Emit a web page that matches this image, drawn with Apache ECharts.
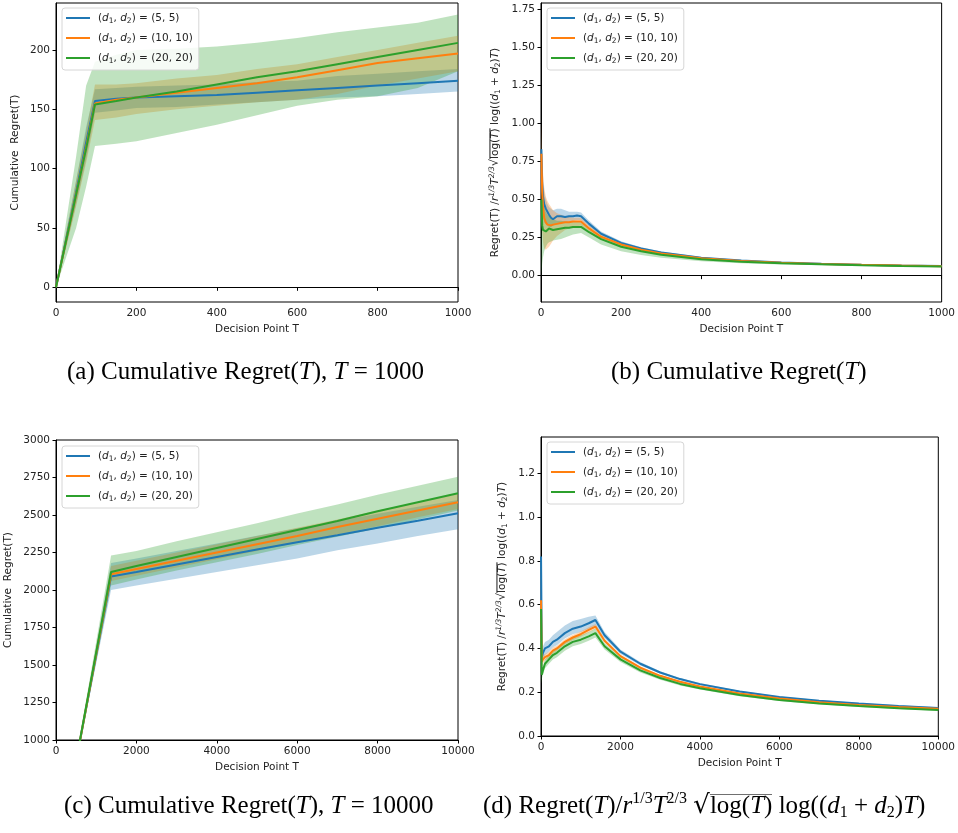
<!DOCTYPE html>
<html>
<head>
<meta charset="utf-8">
<script src="https://cdn.jsdelivr.net/npm/echarts@6/dist/echarts.min.js"></script>
<style>
  html, body { margin: 0; padding: 0; background: #fff; }
  #main { width: 958px; height: 833px; }
</style>
</head>
<body>
<div id="main"></div>
<script>
// (a) cumulative regret, T = 1000
var aT      = [0, 25, 50, 75, 97, 150, 200, 300, 400, 500, 600, 700, 800, 900, 1000];
var aBlue   = [0, 40, 80, 122, 157, 159, 160, 161, 162, 164, 166, 168, 170, 172, 174];
var aOrange = [0, 39, 78, 118, 155, 158, 160, 164, 168, 172, 177, 183, 189, 193, 197];
var aGreen  = [0, 39, 78, 117, 154, 157, 160, 165, 171, 177, 182, 188, 194, 200, 206];
var aBlueLo   = [0, 34, 70, 108, 147, 149, 151, 152, 154, 156, 158, 160, 161, 163, 165];
var aBlueHi   = [0, 46, 90, 135, 167, 168, 169, 170, 171, 173, 174, 178, 180, 182, 184];
var aOrangeLo = [0, 33, 68, 105, 141, 143, 146, 150, 153, 156, 158, 163, 170, 176, 182];
var aOrangeHi = [0, 46, 90, 132, 171, 171, 172, 176, 179, 184, 188, 194, 200, 206, 212];
var aGreenLo  = [0, 25, 50, 85, 119, 121, 123, 130, 137, 145, 153, 158, 161, 168, 182];
var aGreenHi  = [0, 55, 110, 170, 190, 196, 200, 201, 203, 206, 210, 215, 219, 223, 230];

// (b) normalised regret, T = 1000
var bT      = [1, 3, 5, 8, 12, 16, 20, 25, 30, 40, 50, 60, 70, 80, 90, 100, 120, 150, 200, 250, 300, 400, 500, 600, 700, 800, 900, 1000];
var bBlue   = [0.83, 0.60, 0.52, 0.47, 0.44, 0.42, 0.40, 0.38, 0.37, 0.39, 0.39, 0.385, 0.39, 0.39, 0.395, 0.39, 0.34, 0.275, 0.215, 0.178, 0.152, 0.118, 0.099, 0.087, 0.078, 0.072, 0.067, 0.063];
var bOrange = [0.80, 0.55, 0.45, 0.38, 0.35, 0.335, 0.33, 0.33, 0.335, 0.34, 0.345, 0.35, 0.35, 0.355, 0.355, 0.355, 0.31, 0.255, 0.205, 0.17, 0.145, 0.114, 0.096, 0.085, 0.077, 0.071, 0.066, 0.062];
var bGreen  = [0.50, 0.33, 0.30, 0.29, 0.29, 0.30, 0.31, 0.305, 0.30, 0.305, 0.31, 0.315, 0.315, 0.32, 0.32, 0.32, 0.285, 0.24, 0.19, 0.16, 0.137, 0.108, 0.092, 0.082, 0.075, 0.069, 0.064, 0.060];
var bBlueLo   = [0.70, 0.45, 0.38, 0.35, 0.34, 0.33, 0.32, 0.32, 0.33, 0.34, 0.345, 0.35, 0.355, 0.36, 0.365, 0.365, 0.32, 0.262, 0.206, 0.171, 0.146, 0.113, 0.095, 0.084, 0.075, 0.069, 0.064, 0.060];
var bBlueHi   = [0.95, 0.75, 0.62, 0.55, 0.50, 0.47, 0.45, 0.44, 0.43, 0.44, 0.44, 0.43, 0.42, 0.42, 0.42, 0.415, 0.36, 0.29, 0.226, 0.186, 0.158, 0.123, 0.103, 0.090, 0.081, 0.075, 0.070, 0.066];
var bOrangeLo = [0.55, 0.30, 0.22, 0.18, 0.17, 0.18, 0.19, 0.21, 0.23, 0.26, 0.28, 0.30, 0.31, 0.32, 0.325, 0.33, 0.29, 0.24, 0.195, 0.162, 0.139, 0.109, 0.092, 0.082, 0.074, 0.068, 0.063, 0.059];
var bOrangeHi = [1.00, 0.80, 0.68, 0.58, 0.52, 0.49, 0.47, 0.45, 0.43, 0.41, 0.40, 0.39, 0.385, 0.38, 0.38, 0.38, 0.33, 0.27, 0.215, 0.178, 0.151, 0.119, 0.100, 0.088, 0.080, 0.074, 0.069, 0.065];
var bGreenLo  = [0.00, 0.08, 0.12, 0.16, 0.19, 0.21, 0.22, 0.225, 0.23, 0.235, 0.24, 0.25, 0.26, 0.27, 0.275, 0.28, 0.25, 0.205, 0.16, 0.135, 0.118, 0.095, 0.082, 0.074, 0.068, 0.063, 0.059, 0.056];
var bGreenHi  = [0.85, 0.60, 0.50, 0.45, 0.42, 0.40, 0.39, 0.38, 0.37, 0.36, 0.36, 0.355, 0.355, 0.355, 0.355, 0.355, 0.31, 0.26, 0.205, 0.17, 0.145, 0.114, 0.097, 0.086, 0.078, 0.072, 0.067, 0.063];

// (c) cumulative regret, T = 10000
var cT      = [0, 600, 1370, 2000, 3000, 4000, 5000, 6000, 7000, 8000, 9000, 10000];
var cBlue   = [0, 1000, 2090, 2120, 2170, 2220, 2270, 2318, 2365, 2415, 2462, 2512];
var cOrange = [0, 1000, 2105, 2140, 2195, 2250, 2305, 2360, 2420, 2475, 2530, 2585];
var cGreen  = [0, 1005, 2120, 2160, 2220, 2280, 2340, 2400, 2460, 2525, 2585, 2645];
var cBandT    = [600, 1370, 2000, 3000, 4000, 5000, 6000, 7000, 8000, 9000, 10000];
var cBlueLo   = [980, 2000, 2030, 2075, 2120, 2165, 2210, 2265, 2310, 2360, 2405];
var cBlueHi   = [1020, 2180, 2210, 2260, 2310, 2362, 2412, 2460, 2508, 2555, 2600];
var cOrangeLo = [985, 2060, 2095, 2150, 2205, 2260, 2315, 2370, 2425, 2485, 2540];
var cOrangeHi = [1015, 2160, 2195, 2250, 2305, 2360, 2415, 2470, 2530, 2585, 2640];
var cGreenLo  = [975, 2030, 2070, 2130, 2185, 2240, 2300, 2355, 2410, 2470, 2530];
var cGreenHi  = [1035, 2230, 2260, 2325, 2385, 2445, 2510, 2570, 2635, 2695, 2755];

// (d) normalised regret, T = 10000
var dT      = [1, 20, 50, 100, 200, 300, 400, 600, 800, 1000, 1200, 1370, 1600, 2000, 2500, 3000, 3500, 4000, 5000, 6000, 7000, 8000, 9000, 10000];
var dBlue   = [0.82, 0.36, 0.38, 0.40, 0.41, 0.43, 0.44, 0.47, 0.49, 0.50, 0.515, 0.53, 0.46, 0.385, 0.33, 0.29, 0.26, 0.237, 0.203, 0.178, 0.161, 0.148, 0.137, 0.128];
var dOrange = [0.62, 0.34, 0.35, 0.36, 0.37, 0.39, 0.40, 0.43, 0.45, 0.465, 0.485, 0.50, 0.435, 0.365, 0.312, 0.275, 0.248, 0.226, 0.194, 0.171, 0.154, 0.142, 0.132, 0.124];
var dGreen  = [0.58, 0.28, 0.30, 0.33, 0.35, 0.37, 0.38, 0.41, 0.43, 0.44, 0.455, 0.47, 0.41, 0.35, 0.30, 0.265, 0.238, 0.218, 0.187, 0.165, 0.149, 0.137, 0.127, 0.119];
var dBlueLo   = [0.70, 0.33, 0.35, 0.37, 0.385, 0.405, 0.415, 0.445, 0.465, 0.475, 0.49, 0.505, 0.445, 0.375, 0.322, 0.284, 0.255, 0.232, 0.199, 0.175, 0.158, 0.145, 0.134, 0.125];
var dBlueHi   = [0.84, 0.39, 0.41, 0.43, 0.44, 0.46, 0.475, 0.505, 0.525, 0.535, 0.545, 0.55, 0.475, 0.395, 0.338, 0.296, 0.265, 0.242, 0.207, 0.181, 0.164, 0.151, 0.140, 0.131];
var dOrangeLo = [0.30, 0.30, 0.33, 0.345, 0.355, 0.375, 0.388, 0.418, 0.438, 0.453, 0.473, 0.488, 0.427, 0.359, 0.307, 0.271, 0.244, 0.222, 0.191, 0.168, 0.151, 0.139, 0.129, 0.121];
var dOrangeHi = [0.66, 0.37, 0.37, 0.375, 0.385, 0.405, 0.412, 0.442, 0.462, 0.477, 0.497, 0.512, 0.443, 0.371, 0.317, 0.279, 0.252, 0.230, 0.197, 0.174, 0.157, 0.145, 0.135, 0.127];
var dGreenLo  = [0.24, 0.26, 0.28, 0.31, 0.33, 0.35, 0.36, 0.39, 0.41, 0.42, 0.435, 0.45, 0.395, 0.338, 0.290, 0.257, 0.231, 0.212, 0.182, 0.160, 0.145, 0.133, 0.123, 0.115];
var dGreenHi  = [0.62, 0.30, 0.32, 0.35, 0.37, 0.39, 0.40, 0.43, 0.45, 0.46, 0.475, 0.49, 0.425, 0.362, 0.310, 0.273, 0.245, 0.224, 0.192, 0.170, 0.153, 0.141, 0.131, 0.123];

// legend labels / ticks
var seriesNames = ['s55', 's1010', 's2020'];
var legendText = {
  s55: '({it|d}{sub|1}, {it|d}{sub|2}) = (5, 5)',
  s1010: '({it|d}{sub|1}, {it|d}{sub|2}) = (10, 10)',
  s2020: '({it|d}{sub|1}, {it|d}{sub|2}) = (20, 20)'
};
var aYTicks = [0, 50, 100, 150, 200];
var bYTicks = [0, 0.25, 0.5, 0.75, 1.0, 1.25, 1.5, 1.75];
var dYTicks = [0, 0.2, 0.4, 0.6, 0.8, 1.0, 1.2];

var colors = ['#1f77b4', '#ff7f0e', '#2ca02c'];
var bandColors = ['rgba(31,119,180,0.3)', 'rgba(255,127,14,0.3)', 'rgba(44,160,44,0.3)'];
var FONT = 'DejaVu Sans';
var SERIF = 'Liberation Serif';

// little canvas used as background to draw the bar over the sqrt
function barImg(h, t) {
  var c = document.createElement('canvas');
  c.width = 4; c.height = h;
  var ctx = c.getContext('2d');
  ctx.fillStyle = '#000';
  ctx.fillRect(0, 0, 4, t);
  return c;
}
var barBig = barImg(24, 1);
var barSmall = barImg(12, 1);

function zip(xs, ys) {
  var out = [];
  for (var i = 0; i < xs.length; i++) out.push([xs[i], ys[i]]);
  return out;
}

function lineSeries(gi, name, xs, ys, k) {
  return {
    type: 'line', name: name, xAxisIndex: gi, yAxisIndex: gi,
    data: zip(xs, ys), showSymbol: false, clip: true, z: 3,
    color: colors[k], lineStyle: { color: colors[k], width: 2 },
    animation: false
  };
}

function bandSeries(gi, xs, lo, hi, k) {
  return {
    type: 'custom', xAxisIndex: gi, yAxisIndex: gi, silent: true, clip: true, z: 1,
    data: [[xs[0], lo[0]]],
    renderItem: function (params, api) {
      var pts = [];
      for (var i = 0; i < xs.length; i++) pts.push(api.coord([xs[i], lo[i]]));
      for (var j = xs.length - 1; j >= 0; j--) pts.push(api.coord([xs[j], hi[j]]));
      return { type: 'polygon', shape: { points: pts }, style: { fill: bandColors[k], stroke: null } };
    },
    animation: false
  };
}

function plain(v) { return String(v); }

var axisCommon = {
  axisLine: { show: true, lineStyle: { color: '#000', width: 1 } },
  axisTick: { show: true, length: 3.5, lineStyle: { color: '#000' } },
  splitLine: { show: false },
  axisLabel: { color: '#222', fontSize: 10.5, fontFamily: FONT, margin: 6, showMinLabel: true, showMaxLabel: true, formatter: plain }
};

function xAxis(gi, max, interval) {
  return Object.assign({}, axisCommon, {
    type: 'value', gridIndex: gi, min: 0, max: max, interval: interval,
    name: 'Decision Point T', nameLocation: 'middle', nameGap: 22,
    nameTextStyle: { color: '#222', fontSize: 10.5, fontFamily: FONT }
  });
}

var nameRich = {
  it: { fontStyle: 'italic', fontFamily: FONT, fontSize: 10.5, lineHeight: 14, color: '#222' },
  sup: { fontStyle: 'italic', fontFamily: FONT, fontSize: 7.5, lineHeight: 8, verticalAlign: 'top', color: '#222' },
  sub: { fontFamily: FONT, fontSize: 7.5, lineHeight: 9, verticalAlign: 'bottom', color: '#222' },
  rad: { fontFamily: FONT, fontSize: 11.5, lineHeight: 14, color: '#222' },
  ov: { fontFamily: FONT, fontSize: 10.5, lineHeight: 12, color: '#222', backgroundColor: { image: barSmall } },
  ovi: { fontFamily: FONT, fontStyle: 'italic', fontSize: 10.5, lineHeight: 12, color: '#222', backgroundColor: { image: barSmall } }
};
var ratioName = 'Regret(T) /{it|r}{sup|1/3}{it|T}{sup|2/3}{rad|√}{ov|log(}{ovi|T}{ov|)} log(({it|d}{sub|1} + {it|d}{sub|2}){it|T})';

var grids = [
  { left: 56, top: 3, width: 402, height: 299 },
  { left: 541, top: 3, width: 402, height: 299 },
  { left: 56, top: 440, width: 402, height: 300 },
  { left: 541, top: 437, width: 402, height: 299 }
].map(function (g) { return Object.assign({ show: true, borderColor: '#000', borderWidth: 1, backgroundColor: 'transparent' }, g); });

var yAxes = [
  Object.assign({}, axisCommon, {
    type: 'value', gridIndex: 0, min: -12.4, max: 239.6,
    axisLabel: Object.assign({}, axisCommon.axisLabel, { customValues: aYTicks }),
    axisTick: Object.assign({}, axisCommon.axisTick, { customValues: aYTicks }),
    name: 'Cumulative  Regret(T)', nameLocation: 'middle', nameGap: 35, nameRotate: 90,
    nameTextStyle: { color: '#222', fontSize: 10.5, fontFamily: FONT }
  }),
  Object.assign({}, axisCommon, {
    type: 'value', gridIndex: 1, min: -0.173, max: 1.79,
    axisLabel: Object.assign({}, axisCommon.axisLabel, { customValues: bYTicks, formatter: function (v) { return v.toFixed(2); } }),
    axisTick: Object.assign({}, axisCommon.axisTick, { customValues: bYTicks }),
    name: ratioName, nameLocation: 'middle', nameGap: 39, nameRotate: 90,
    nameTextStyle: { color: '#222', fontSize: 10.5, fontFamily: FONT, lineHeight: 14, rich: nameRich }
  }),
  Object.assign({}, axisCommon, {
    type: 'value', gridIndex: 2, min: 1000, max: 3000, interval: 250,
    name: 'Cumulative  Regret(T)', nameLocation: 'middle', nameGap: 42, nameRotate: 90,
    nameTextStyle: { color: '#222', fontSize: 10.5, fontFamily: FONT }
  }),
  Object.assign({}, axisCommon, {
    type: 'value', gridIndex: 3, min: 0, max: 1.366,
    axisLabel: Object.assign({}, axisCommon.axisLabel, { customValues: dYTicks, formatter: function (v) { return v.toFixed(1); } }),
    axisTick: Object.assign({}, axisCommon.axisTick, { customValues: dYTicks }),
    name: ratioName, nameLocation: 'middle', nameGap: 32, nameRotate: 90,
    nameTextStyle: { color: '#222', fontSize: 10.5, fontFamily: FONT, lineHeight: 14, rich: nameRich }
  })
];

function legend(left, top) {
  return {
    left: left, top: top, orient: 'vertical', itemGap: 6, itemWidth: 24, itemHeight: 2,
    padding: [3, 6, 5, 4], icon: 'rect',
    backgroundColor: 'rgba(255,255,255,0.85)', borderColor: '#d6d6d6', borderWidth: 1, borderRadius: 3,
    data: seriesNames, selectedMode: false,
    formatter: function (n) { return legendText[n]; },
    textStyle: {
      color: '#222', fontSize: 10.5, fontFamily: FONT, lineHeight: 14, padding: [0, 0, 0, 3],
      rich: {
        it: { fontStyle: 'italic', fontFamily: FONT, fontSize: 10.5, lineHeight: 14, color: '#222' },
        sub: { fontFamily: FONT, fontSize: 7.5, lineHeight: 9, verticalAlign: 'bottom', color: '#222' }
      }
    }
  };
}

var capRich = {
  it: { fontStyle: 'italic', fontFamily: SERIF, fontSize: 25, fontWeight: 'normal', lineHeight: 30, color: '#000' },
  sup: { fontFamily: SERIF, fontSize: 16, fontWeight: 'normal', lineHeight: 17, verticalAlign: 'top', color: '#000' },
  sub: { fontFamily: SERIF, fontSize: 16, fontWeight: 'normal', lineHeight: 18, verticalAlign: 'bottom', color: '#000' },
  rad: { fontFamily: 'DejaVu Serif', fontSize: 26, fontWeight: 'normal', lineHeight: 30, color: '#000' },
  ov: { fontFamily: SERIF, fontSize: 25, fontWeight: 'normal', lineHeight: 26, color: '#000', backgroundColor: { image: barBig } },
  ovi: { fontFamily: SERIF, fontStyle: 'italic', fontSize: 25, fontWeight: 'normal', lineHeight: 26, color: '#000', backgroundColor: { image: barBig } }
};
function caption(text, left, top) {
  return {
    text: text, left: left, top: top, padding: 0,
    textStyle: { fontFamily: SERIF, fontSize: 25, fontWeight: 'normal', color: '#000', lineHeight: 30, rich: capRich }
  };
}

var series = [];
[
  [0, aT, [aBlue, aOrange, aGreen]],
  [1, bT, [bBlue, bOrange, bGreen]],
  [2, cT, [cBlue, cOrange, cGreen]],
  [3, dT, [dBlue, dOrange, dGreen]]
].forEach(function (p) {
  p[2].forEach(function (ys, k) { series.push(lineSeries(p[0], seriesNames[k], p[1], ys, k)); });
});
[
  [0, aT, [[aBlueLo, aBlueHi], [aOrangeLo, aOrangeHi], [aGreenLo, aGreenHi]]],
  [1, bT, [[bBlueLo, bBlueHi], [bOrangeLo, bOrangeHi], [bGreenLo, bGreenHi]]],
  [2, cBandT, [[cBlueLo, cBlueHi], [cOrangeLo, cOrangeHi], [cGreenLo, cGreenHi]]],
  [3, dT, [[dBlueLo, dBlueHi], [dOrangeLo, dOrangeHi], [dGreenLo, dGreenHi]]]
].forEach(function (p) {
  p[2].forEach(function (b, k) { series.push(bandSeries(p[0], p[1], b[0], b[1], k)); });
});

var option = {
  animation: false,
  backgroundColor: '#fff',
  title: [
    caption('(a) Cumulative Regret({it|T}), {it|T} = 1000', 67, 357),
    caption('(b) Cumulative Regret({it|T})', 611, 357),
    caption('(c) Cumulative Regret({it|T}), {it|T} = 10000', 64, 791),
    caption('(d) Regret({it|T})/{it|r}{sup|1/3}{it|T}{sup|2/3} {rad|√}{ov|log(}{ovi|T}{ov|)} log(({it|d}{sub|1} + {it|d}{sub|2}){it|T})', 483, 791)
  ],
  legend: [legend(62, 8), legend(547, 8), legend(62, 446), legend(547, 442)],
  grid: grids,
  xAxis: [xAxis(0, 1000, 200), xAxis(1, 1000, 200), xAxis(2, 10000, 2000), xAxis(3, 10000, 2000)],
  yAxis: yAxes,
  series: series
};

var myChart = echarts.init(document.getElementById('main'), null, { renderer: 'canvas' });
myChart.setOption(option);
</script>
</body>
</html>
